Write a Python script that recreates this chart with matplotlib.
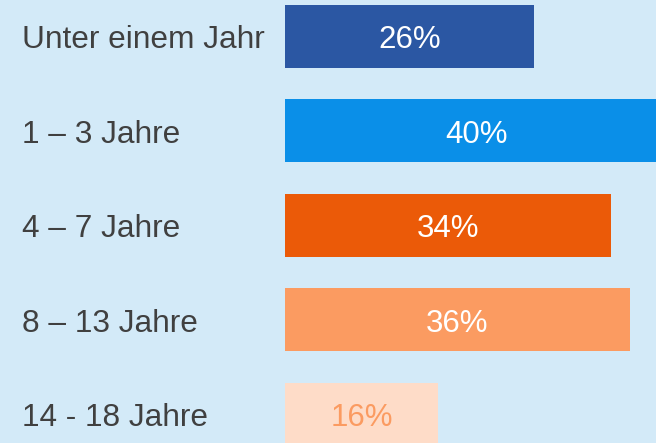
import matplotlib.pyplot as plt
from matplotlib.transforms import blended_transform_factory

categories = ["Unter einem Jahr", "1 – 3 Jahre", "4 – 7 Jahre", "8 – 13 Jahre", "14 - 18 Jahre"]
values = [26, 40, 34, 36, 16]
bar_colors = ["#2B57A3", "#0A8FE8", "#EB5A08", "#FB9B61", "#FEDCC8"]
value_colors = ["white", "white", "white", "white", "#FB9B61"]

BG = "#D3EAF8"


def main():
    plt.rcParams["font.family"] = ["Liberation Sans", "DejaVu Sans"]

    fig = plt.figure(figsize=(6.56, 4.43), dpi=100, facecolor=BG)
    # bars start at 285 px, 1 % = 9.58 px
    ax = fig.add_axes([285 / 656, 0, 371 / 656, 1])
    ax.set_facecolor(BG)

    positions = range(len(categories))
    ax.barh(positions, values, height=0.667, color=bar_colors)

    ax.set_xlim(0, 371 / 9.58)
    ax.set_ylim(4.302, -0.386)
    ax.axis("off")

    for pos, value, color in zip(positions, values, value_colors):
        ax.text(value / 2, pos + 0.04, f"{value}%", ha="center", va="center",
                fontsize=22.5, color=color, clip_on=False)

    trans = blended_transform_factory(fig.transFigure, ax.transData)
    for pos, label in zip(positions, categories):
        ax.text(22 / 656, pos + 0.04, label, transform=trans, ha="left", va="center",
                fontsize=22.8, color="#404040")

    fig.savefig("out.png", dpi=100, facecolor=BG)


if __name__ == "__main__":
    main()
